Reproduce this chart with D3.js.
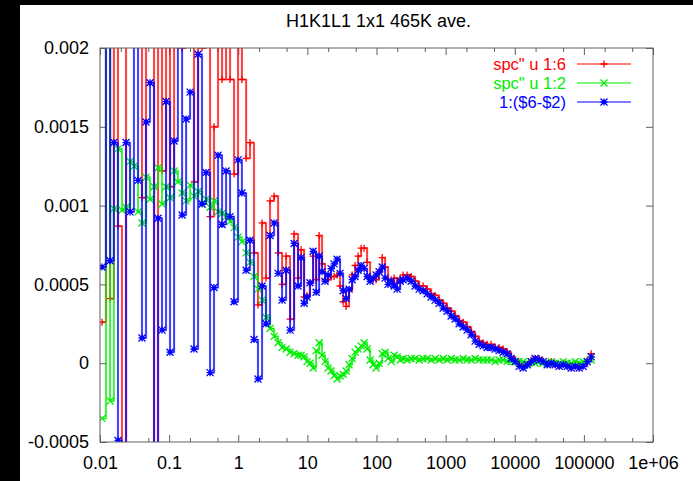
<!DOCTYPE html>
<html><head><meta charset="utf-8">
<script src="https://cdn.jsdelivr.net/npm/d3@7"></script>
<style>body{margin:0;background:#fff}svg{display:block}text{font-family:"Liberation Sans",Arial,sans-serif}</style>
</head><body>
<svg id="c" width="693" height="481"></svg>
<script>
const title = "H1K1L1 1x1 465K ave.";
const xTickValues = [0.01, 0.1, 1, 10, 100, 1000, 10000, 100000, 1000000];
const xTickLabels = ["0.01", "0.1", "1", "10", "100", "1000", "10000", "100000", "1e+06"];
const xMinorTickValues = [0.02,0.05,0.2,0.5,2,5,20,50,200,500,2000,5000,20000,50000,200000,500000];
const yTickValues = [-0.0005, 0, 0.0005, 0.001, 0.0015, 0.002];
const yTickLabels = ["-0.0005", "0", "0.0005", "0.001", "0.0015", "0.002"];
const seriesNames = ['spc" u 1:6', 'spc" u 1:2', '1:($6-$2)'];

const xData = [
0.0107,0.0122,0.0140,0.0159,0.0182,0.0208,0.0238,0.0272,0.0310,0.0355,
0.0405,0.0463,0.0529,0.0605,0.0691,0.0789,0.0902,0.103,0.118,0.134,
0.154,0.176,0.201,0.229,0.262,0.299,0.342,0.391,0.446,0.510,
0.583,0.666,0.761,0.869,0.993,1.13,1.30,1.48,1.69,1.93,
2.21,2.52,2.88,3.30,3.77,4.30,4.92,5.62,6.42,7.33,
8.11,8.96,9.90,10.9,12.1,13.4,14.8,16.3,18.0,19.9,
22.0,24.3,26.9,29.7,32.9,36.3,40.1,44.4,49.0,54.2,
59.9,66.2,73.1,80.8,89.3,98.7,109,121,133,147,
163,180,199,220,
243,277,317,362,414,472,540,617,705,805,
920,1051,1201,1372,1568,1792,2047,2339,2672,3053,
3489,3986,4555,5204,5947,6795,7764,8871,10136,11581,
13233,15120,17276,19739,22554,25771,29446,33645,38443,43925,
50189,57346,65524,74868,85544,97743,111681,127600];

const col6 = [
0.00026,0.0051,0.00041,0.0024,0.00087,-0.0015,0.0024,0.0022,0.0038,0.0021,
0.00105,0.0027,0.0028,-0.0014,0.00216,0.00122,0.0028,0.00112,0.0026,0.0036,
0.0020,0.0026,0.0029,0.00115,0.0031,0.0020,0.0023,0.00093,0.0015,0.0023,
0.0018,0.0022,0.0018,0.0012,0.0021,0.0018,0.0013,0.0014,0.0007,0.00037,
0.00089,0.00054,0.00103,0.00106,0.0007,0.0005,0.00068,0.00028,0.00082,0.00054,
0.00072,0.00042,0.00043,0.00051,0.00068,0.00053,0.00081,0.00063,0.00053,0.00053,
0.00055,0.00055,0.00056,0.00049,0.00039,0.00036,0.00046,0.00056,0.00062,0.00068,
0.00073,0.00073,0.00064,0.00054,0.00053,0.00053,0.00058,0.00067,0.00061,0.00053,
0.00053,0.00054,0.00051,0.00054,
0.00056,0.00056,0.00055,0.00052,0.00049,0.00049,0.00047,0.00044,0.00043,0.0004,
0.00038,0.00035,0.00033,0.0003,0.00027,0.00026,0.00023,0.0002,0.00017,0.00014,
0.00013,0.00012,0.00012,0.0001,0.0001,0.00009,0.00007,0.00004,0.00002,-0.00001,
-0.00002,-0.00001,0.00002,0.00003,0.00003,0.00001,-0.00001,0.00001,-0.00001,-0.00002,
0,-0.00002,-0.00003,-0.00001,-0.00003,-0.00001,0.00002,0.00006];

const col2 = [
-0.00035,0.0021,-0.00024,0.00098,0.00136,0.00097,0.00099,0.00128,0.00125,0.00096,
0.00089,0.00118,0.00104,0.00112,0.00124,0.00101,0.00112,0.00105,0.00122,0.00115,
0.00108,0.00103,0.00113,0.00106,0.00109,0.00101,0.00104,0.00099,0.00103,0.00096,
0.00095,0.00093,0.0009,0.00086,0.0008,0.00077,0.0007,0.00064,0.00055,0.00047,
0.0004,0.00029,0.00022,0.00017,0.00013,0.0001,0.00009,0.00007,0.00006,0.00005,
0.00005,0.00004,0.00001,0,-0.00003,0.00008,0.00013,0.00005,0.00001,-0.00003,
-0.00005,-0.00008,-0.0001,-0.00008,-0.00007,-0.00005,-0.00001,0.00003,0.00007,0.00009,
0.00011,0.00013,0.00009,0.00002,-0.00001,-0.00003,0,0.00006,0.00007,0.00003,
0.00001,0.00005,0.00004,0.00002,
0.00003,0.00002,0.00003,0.00003,0.00002,0.00003,0.00003,0.00002,0.00003,0.00002,
0.00003,0.00002,0.00003,0.00002,0.00002,0.00003,0.00002,0.00002,0.00003,0.00002,
0.00002,0.00002,0.00002,0.00001,0.00002,0.00002,0.00001,0.00001,0.00001,0.00001,
0.00001,0,0.00001,0,0.00001,0,0,0.00001,0,0,
0.00001,0,0,0.00001,0,0.00001,0.00001,0.00002];

const col6minus2 = [
0.00061,0.003,0.00065,0.0014,-0.00049,-0.0025,0.0014,0.00096,0.0025,0.00116,
0.00016,0.00153,0.00178,-0.0025,0.00092,0.00021,0.00166,0.00007,0.00141,0.0024,
0.00094,0.00155,0.00172,0.00009,0.00196,0.00101,0.00121,-0.00006,0.00048,0.00132,
0.00088,0.00122,0.00093,0.00039,0.00129,0.00108,0.00059,0.00078,0.00015,-0.0001,
0.00049,0.00025,0.00081,0.00089,0.00057,0.0004,0.00059,0.00021,0.00076,0.00049,
0.00067,0.00038,0.00042,0.00051,0.00071,0.00045,0.00068,0.00058,0.00052,0.00056,
0.0006,0.00063,0.00066,0.00057,0.00046,0.00041,0.00047,0.00053,0.00055,0.00059,
0.00062,0.0006,0.00055,0.00052,0.00054,0.00056,0.00058,0.00061,0.00054,0.0005,
0.00052,0.00049,0.00047,0.00052,
0.00053,0.00054,0.00052,0.00049,0.00047,0.00046,0.00044,0.00042,0.0004,0.00038,
0.00035,0.00033,0.0003,0.00028,0.00025,0.00023,0.00021,0.00018,0.00014,0.00012,
0.00011,0.0001,0.0001,0.00009,0.00008,0.00007,0.00006,0.00003,0.00001,-0.00002,
-0.00003,-0.00001,0.00001,0.00003,0.00002,0.00001,-0.00001,0,-0.00001,-0.00002,
-0.00001,-0.00002,-0.00003,-0.00002,-0.00003,-0.00002,0.00001,0.00004];

const colors = ["#ff0000", "#00ee00", "#0000ff"];
const markers = ["plus", "cross", "star"];
const seriesValues = [col6, col2, col6minus2];

const W = 693, H = 481;
const L = 100, R = 653, T = 48, B = 442;
const svg = d3.select("#c");
svg.append("rect").attr("width", W).attr("height", H).attr("fill", "#fff");
svg.append("rect").attr("x", 0).attr("y", 0).attr("width", 20).attr("height", H).attr("fill", "#000");
svg.append("rect").attr("x", 0).attr("y", 0).attr("width", W).attr("height", 5).attr("fill", "#000");

const x = d3.scaleLog().domain([0.01, 1e6]).range([L, R]);
const y = d3.scaleLinear().domain([-0.0005, 0.002]).range([B, T]);

svg.append("text").attr("x", (L + R) / 2 + 2).attr("y", 27).attr("text-anchor", "middle")
  .attr("font-size", 18).attr("fill", "#000").text(title);

const tickColor = "#606060";
const g = svg.append("g");
function styleAxis(sel) {
  sel.select(".domain").remove();
  sel.selectAll(".tick line").attr("stroke", tickColor);
  sel.selectAll("text").attr("font-size", 18).attr("fill", "#000").attr("font-family", '"Liberation Sans",Arial,sans-serif');
}
const xb = g.append("g").attr("transform", `translate(0,${B})`)
  .call(d3.axisBottom(x).tickValues(xTickValues).tickSize(-7).tickPadding(14)
    .tickFormat((d, i) => xTickLabels[i]));
styleAxis(xb);
const xt = g.append("g").attr("transform", `translate(0,${T})`)
  .call(d3.axisTop(x).tickValues(xTickValues).tickSize(-7).tickFormat(""));
styleAxis(xt);
const xbm = g.append("g").attr("transform", `translate(0,${B})`)
  .call(d3.axisBottom(x).tickValues(xMinorTickValues).tickSize(-4).tickFormat(""));
styleAxis(xbm);
const xtm = g.append("g").attr("transform", `translate(0,${T})`)
  .call(d3.axisTop(x).tickValues(xMinorTickValues).tickSize(-4).tickFormat(""));
styleAxis(xtm);
const yl = g.append("g").attr("transform", `translate(${L},0)`)
  .call(d3.axisLeft(y).tickValues(yTickValues).tickSize(-7).tickPadding(11)
    .tickFormat((d, i) => yTickLabels[i]));
styleAxis(yl);
const yr = g.append("g").attr("transform", `translate(${R},0)`)
  .call(d3.axisRight(y).tickValues(yTickValues).tickSize(-7).tickFormat(""));
styleAxis(yr);

svg.append("defs").append("clipPath").attr("id", "clip")
  .append("rect").attr("x", L).attr("y", T).attr("width", R - L).attr("height", B - T);

function markerPath(type, cx, cy, s) {
  if (type === "plus") return `M${cx - s},${cy}H${cx + s}M${cx},${cy - s}V${cy + s}`;
  if (type === "cross") return `M${cx - s},${cy - s}L${cx + s},${cy + s}M${cx - s},${cy + s}L${cx + s},${cy - s}`;
  return `M${cx - s},${cy}H${cx + s}M${cx},${cy - s}V${cy + s}M${cx - s},${cy - s}L${cx + s},${cy + s}M${cx - s},${cy + s}L${cx + s},${cy - s}`;
}

const plot = svg.append("g").attr("clip-path", "url(#clip)");
seriesValues.forEach((vals, si) => {
  const pts = xData.map((xv, i) => [xv, vals[i]]);
  const line = d3.line().x(d => x(d[0])).y(d => y(d[1])).curve(d3.curveStepAfter);
  plot.append("path").attr("d", line(pts)).attr("fill", "none")
    .attr("stroke", colors[si]).attr("stroke-opacity", 0.45).attr("stroke-width", 2.2);
  plot.append("path").attr("d", line(pts)).attr("fill", "none")
    .attr("stroke", colors[si]).attr("stroke-width", 1);
  plot.append("path").attr("d", pts.map(d => markerPath(markers[si], x(d[0]), y(d[1]), 3.5)).join(""))
    .attr("fill", "none").attr("stroke", colors[si]).attr("stroke-width", 1.3);
});

svg.append("rect").attr("x", L).attr("y", T).attr("width", R - L).attr("height", B - T)
  .attr("fill", "none").attr("stroke", tickColor).attr("stroke-width", 1);

const legY = [64, 83, 102];
seriesNames.forEach((name, si) => {
  const ly = legY[si];
  svg.append("text").attr("x", 566).attr("y", ly).attr("dy", "0.35em").attr("text-anchor", "end")
    .attr("font-size", 16.5).attr("fill", colors[si]).text(name);
  svg.append("line").attr("x1", 577).attr("x2", 631).attr("y1", ly).attr("y2", ly)
    .attr("stroke", colors[si]).attr("stroke-width", 1.2);
  svg.append("path").attr("d", markerPath(markers[si], 604, ly, 3.5))
    .attr("fill", "none").attr("stroke", colors[si]).attr("stroke-width", 1.3);
});
</script>
</body></html>
